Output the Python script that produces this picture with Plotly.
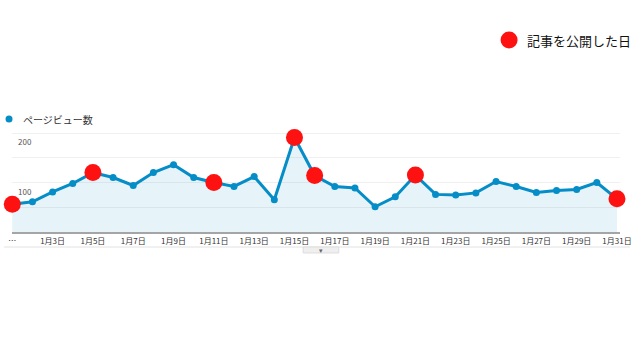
import plotly.graph_objects as go

days = list(range(1, 32))
pageviews = [56, 61, 81, 98, 120, 110, 94, 120, 136, 110, 100, 92, 112, 65, 191,
             114, 92, 89, 51, 71, 115, 76, 75, 79, 102, 92, 80, 84, 86, 100, 67]
publish_days = [1, 5, 11, 15, 16, 21, 31]
publish_values = [pageviews[d - 1] for d in publish_days]
tick_days = [1] + list(range(3, 32, 2))
tick_text = ["…"] + [f"1月{d}日" for d in range(3, 32, 2)]
ylabel_vals = [100, 200]
series_name = "ページビュー数"
publish_name = "記事を公開した日"

BLUE = "#058dc7"
RED = "#fd1111"
FONT = "Noto Sans CJK JP"

L, R, T, B = 8, 18, 125, 128
PW, PH = 640 - L - R, 360 - T - B


def px(xp):
    return (xp - L) / PW


def py(yp):
    return (360 - B - yp) / PH


fig = go.Figure()
fig.add_trace(go.Scatter(
    x=days, y=pageviews, mode="lines+markers", name=series_name,
    line=dict(color=BLUE, width=3), marker=dict(color=BLUE, size=7),
    fill="tozeroy", fillcolor="rgba(5,141,199,0.10)", cliponaxis=False,
    showlegend=False))
fig.add_trace(go.Scatter(
    x=publish_days, y=publish_values, mode="markers", name=publish_name,
    marker=dict(color=RED, size=17), cliponaxis=False, showlegend=False))

shapes = [
    dict(type="circle", xref="paper", yref="paper", xsizemode="pixel", ysizemode="pixel",
         xanchor=px(5), yanchor=py(119), x0=-3.5, x1=3.5, y0=-3.5, y1=3.5,
         fillcolor=BLUE, line=dict(width=0)),
    dict(type="circle", xref="paper", yref="paper", xsizemode="pixel", ysizemode="pixel",
         xanchor=px(510), yanchor=py(40), x0=-8.5, x1=8.5, y0=-8.5, y1=8.5,
         fillcolor=RED, line=dict(width=0)),
    dict(type="line", xref="paper", yref="paper", x0=px(0), x1=px(632), y0=py(247), y1=py(247),
         line=dict(color="#e2e2e2", width=1)),
    dict(type="rect", xref="paper", yref="paper", x0=px(302), x1=px(338), y0=py(247), y1=py(253),
         fillcolor="#efefef", line=dict(color="#dddddd", width=1)),
]

annotations = [
    dict(text=series_name, xref="paper", yref="paper", x=px(17), y=py(119),
         xanchor="left", yanchor="middle", showarrow=False,
         font=dict(family=FONT, size=10, color="#333333")),
    dict(text=publish_name, xref="paper", yref="paper", x=px(526), y=py(40),
         xanchor="left", yanchor="middle", showarrow=False,
         font=dict(family=FONT, size=13, color="#111111")),
    dict(text="▾", xref="paper", yref="paper", x=px(320), y=py(250),
         xanchor="center", yanchor="middle", showarrow=False,
         font=dict(family=FONT, size=7, color="#666666")),
]
for v in ylabel_vals:
    annotations.append(dict(text=str(v), xref="paper", yref="y", x=px(12), y=v,
                            xanchor="left", yanchor="top", yshift=-1, showarrow=False,
                            font=dict(family=FONT, size=8, color="#555555")))

fig.update_layout(
    width=640, height=360, autosize=False,
    margin=dict(l=L, r=R, t=T, b=B, pad=0),
    paper_bgcolor="white", plot_bgcolor="white",
    shapes=shapes, annotations=annotations, showlegend=False,
    xaxis=dict(range=[0.985, 31.15], tickvals=tick_days, ticktext=tick_text,
               showgrid=False, zeroline=False, showline=True, linecolor="#a5a5a5",
               linewidth=2, ticks="", tickfont=dict(family=FONT, size=8, color="#333333")),
    yaxis=dict(range=[0, PH / 0.495], dtick=50, tick0=0, showgrid=True, gridcolor="#f0f0f0",
               zeroline=False, showticklabels=False, ticks=""),
)

fig.write_html("out.html", config={"displayModeBar": False},
               post_script="document.body.style.margin='0';")
